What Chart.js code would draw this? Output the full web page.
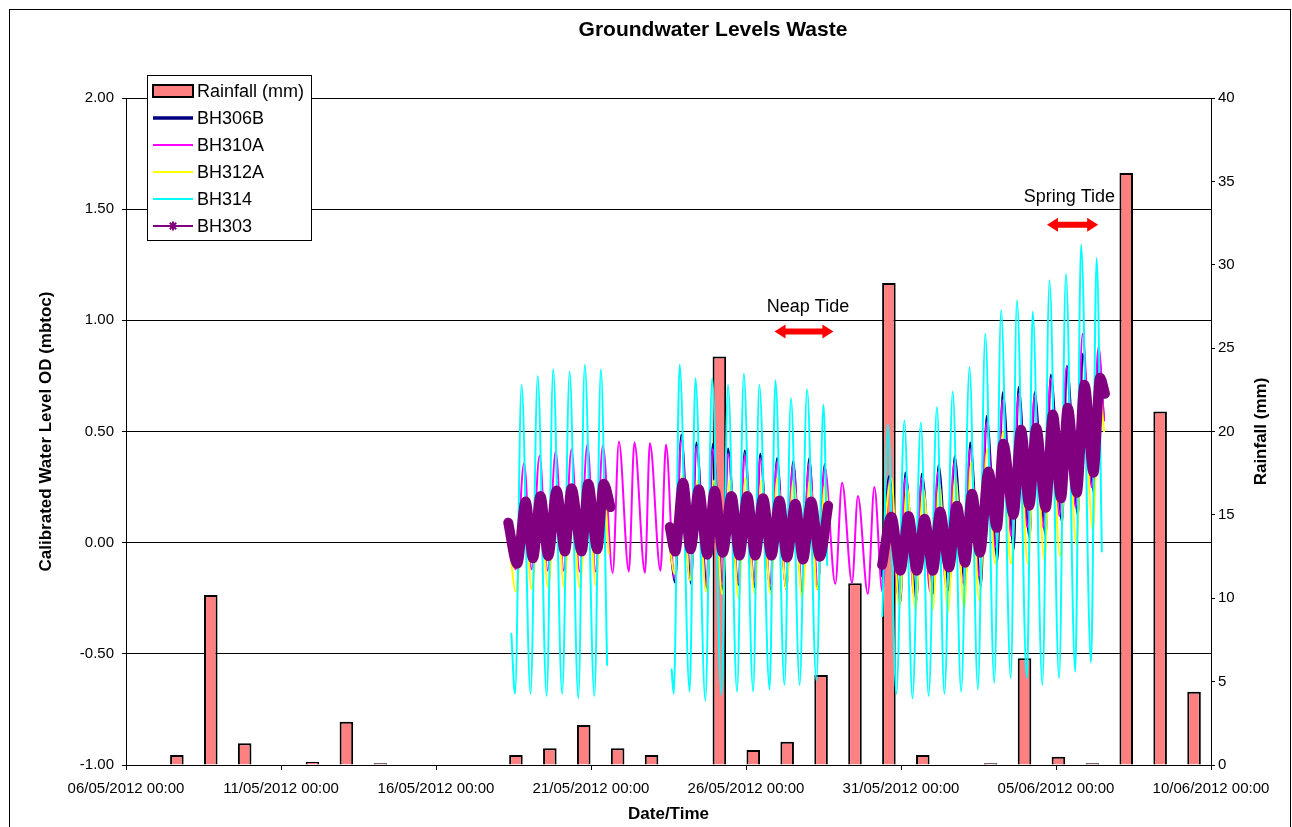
<!DOCTYPE html>
<html>
<head>
<meta charset="utf-8">
<script src="https://cdn.jsdelivr.net/npm/chart.js@4.4.1/dist/chart.umd.min.js"></script>
<style>
html,body{margin:0;padding:0;background:#fff;}
#wrap{width:1292px;height:827px;position:relative;}
canvas{display:block;}
</style>
</head>
<body>
<div id="wrap"><canvas id="c" width="1292" height="827"></canvas></div>
<script>
// ---------- DATA ----------
const chartTitle = 'Groundwater Levels Waste';
const xTitle = 'Date/Time';
const yTitle = 'Calibrated Water Level OD (mbtoc)';
const y2Title = 'Rainfall (mm)';

// x tick labels (every 5 days from 06/05/2012 00:00)
const xTickLabels = ['06/05/2012 00:00','11/05/2012 00:00','16/05/2012 00:00','21/05/2012 00:00',
  '26/05/2012 00:00','31/05/2012 00:00','05/06/2012 00:00','10/06/2012 00:00'];

// rainfall categories and values (mm)
const rainDates = ['06/05/2012','07/05/2012','08/05/2012','09/05/2012','10/05/2012','11/05/2012','12/05/2012',
  '13/05/2012','14/05/2012','15/05/2012','16/05/2012','17/05/2012','18/05/2012','19/05/2012','20/05/2012',
  '21/05/2012','22/05/2012','23/05/2012','24/05/2012','25/05/2012','26/05/2012','27/05/2012','28/05/2012',
  '29/05/2012','30/05/2012','31/05/2012','01/06/2012','02/06/2012','03/06/2012','04/06/2012','05/06/2012','06/06/2012'];
const rainfallMm = [null,0.6,10.2,1.3,null,0.2,2.6,0.1,null,null,null,0.6,1.0,2.4,1.0,0.6,
  null,24.5,0.9,1.4,5.4,10.9,28.9,0.6,null,0.1,6.4,0.5,0.1,35.5,21.2,4.4];

// groundwater levels: [days since 06/05/2012 00:00, level mbtoc]; null = no record
const bh306b = [
  [17.53,0.0],[17.72,-0.18],[17.91,0.485],[18.23,-0.186],[18.40,0.45],[18.75,-0.21],[18.93,0.444],
  [19.25,-0.21],[19.42,0.424],[19.76,-0.19],[19.96,0.414],[20.28,-0.20],[20.46,0.40],[20.79,-0.21],
  [21.00,0.38],[21.30,-0.21],[21.52,0.366],[21.81,-0.22],[22.04,0.38],[22.31,-0.21],[22.54,0.354],[22.64,0.15],
  [23.5,null],
  [24.36,-0.15],[24.62,0.30],[24.98,-0.27],[25.14,0.316],[25.50,-0.26],[25.67,0.31],[26.04,-0.23],[26.21,0.35],
  [26.55,-0.216],[26.73,0.39],[27.07,-0.20],[27.23,0.45],[27.58,-0.197],[27.76,0.57],[28.11,-0.08],[28.28,0.676],
  [28.64,-0.03],[28.79,0.70],[29.15,0.02],[29.31,0.676],[29.67,0.03],[29.83,0.756],[30.20,0.09],[30.35,0.796],
  [30.71,0.12],[30.86,0.85],[31.23,0.22],[31.37,0.85],[31.55,0.55]
];
const bh310a = [
  [12.34,0.10],[12.57,-0.12],[12.84,0.357],[13.08,-0.12],[13.34,0.39],[13.60,-0.125],[13.86,0.41],[14.12,-0.125],
  [14.37,0.42],[14.63,-0.13],[14.88,0.44],[15.15,-0.13],[15.38,0.436],[15.70,-0.136],[15.90,0.454],[16.22,-0.13],
  [16.40,0.451],[16.74,-0.135],[16.90,0.447],[17.24,-0.126],[17.42,0.44],[17.69,-0.16],
  [17.91,0.46],[18.19,-0.17],[18.40,0.43],[18.71,-0.19],[18.93,0.42],[19.23,-0.19],[19.42,0.40],[19.74,-0.18],
  [19.96,0.39],[20.25,-0.18],[20.46,0.38],[20.77,-0.19],[21.00,0.36],[21.28,-0.19],[21.52,0.35],[21.80,-0.20],
  [22.04,0.36],[22.32,-0.19],[22.54,0.34],[22.88,-0.185],[23.10,0.27],[23.42,-0.18],[23.61,0.21],[23.93,-0.23],
  [24.14,0.25],[24.40,-0.22],
  [24.62,0.28],[24.91,-0.24],[25.14,0.29],[25.43,-0.24],[25.67,0.29],[25.94,-0.22],[26.20,0.32],[26.46,-0.20],
  [26.72,0.36],[26.99,-0.18],[27.23,0.42],[27.52,-0.15],[27.76,0.54],[28.04,-0.02],[28.28,0.64],[28.55,0.03],
  [28.80,0.67],[29.07,0.07],[29.31,0.66],[29.58,0.07],[29.83,0.74],[30.11,0.12],[30.34,0.79],[30.63,0.16],
  [30.86,0.94],[31.15,0.25],[31.37,0.88],[31.55,0.55]
];
const bh312a = [
  [12.34,0.05],[12.57,-0.22],[12.86,0.21],[13.08,-0.21],[13.37,0.22],[13.61,-0.20],[13.89,0.24],[14.13,-0.20],
  [14.37,0.25],[14.63,-0.20],[14.91,0.26],[15.15,-0.19],[15.40,0.27],[15.57,-0.05],
  [16.5,null],
  [17.53,0.0],[17.69,-0.14],[17.95,0.30],[18.19,-0.17],[18.45,0.28],[18.71,-0.22],[18.97,0.28],[19.23,-0.23],
  [19.48,0.28],[19.76,-0.25],[19.98,0.29],[20.28,-0.23],[20.50,0.28],[20.79,-0.23],[21.01,0.29],[21.30,-0.21],
  [21.53,0.28],[21.81,-0.25],[22.06,0.28],[22.29,-0.21],[22.56,0.27],[22.65,0.12],
  [23.5,null],
  [24.36,-0.10],[24.69,0.29],[24.94,-0.29],[25.20,0.25],[25.46,-0.30],[25.72,0.24],[26.03,-0.30],[26.23,0.27],
  [26.52,-0.31],[26.75,0.30],[27.04,-0.30],[27.26,0.36],[27.52,-0.26],[27.78,0.42],[28.04,-0.095],[28.29,0.50],
  [28.54,-0.095],[28.81,0.52],[29.09,-0.095],[29.33,0.50],[29.63,-0.08],[29.84,0.56],[30.13,-0.06],[30.36,0.60],
  [30.66,-0.01],[30.87,0.68],[31.19,0.055],[31.39,0.70],[31.55,0.50]
];
const bh314 = [
  [12.43,-0.41],[12.55,-0.68],[12.76,0.71],[13.05,-0.68],[13.28,0.75],[13.57,-0.69],[13.78,0.78],[14.07,-0.68],
  [14.31,0.77],[14.59,-0.70],[14.80,0.80],[15.11,-0.69],[15.32,0.78],[15.52,-0.55],
  [16.5,null],
  [17.60,-0.57],[17.67,-0.68],[17.86,0.80],[18.18,-0.67],[18.37,0.74],[18.69,-0.71],[18.91,0.74],[19.21,-0.685],
  [19.42,0.71],[19.71,-0.67],[19.93,0.76],[20.23,-0.67],[20.43,0.71],[20.76,-0.66],[20.95,0.73],[21.24,-0.64],
  [21.45,0.65],[21.73,-0.64],[21.97,0.69],[22.27,-0.62],[22.50,0.62],[22.62,-0.10],
  [23.5,null],
  [24.40,-0.33],[24.58,0.53],[24.85,-0.68],[25.11,0.55],[25.37,-0.70],[25.64,0.54],[25.89,-0.69],[26.16,0.61],
  [26.40,-0.68],[26.67,0.68],[26.94,-0.67],[27.21,0.79],[27.48,-0.66],[27.72,0.94],[28.01,-0.63],[28.23,1.045],
  [28.54,-0.61],[28.74,1.09],[29.06,-0.61],[29.25,1.04],[29.56,-0.64],[29.79,1.18],[30.10,-0.61],[30.32,1.21],
  [30.62,-0.58],[30.81,1.34],[31.13,-0.54],[31.31,1.28],[31.48,-0.04]
];
const bh303 = [
  [12.33,0.09],[12.62,-0.095],[12.89,0.185],[13.13,-0.07],[13.37,0.21],[13.62,-0.06],[13.89,0.235],[14.16,-0.04],
  [14.37,0.245],[14.70,-0.04],[14.91,0.265],[15.20,-0.03],[15.41,0.265],[15.63,0.16],
  [16.5,null],
  [17.54,0.07],[17.72,-0.04],[17.97,0.27],[18.21,-0.03],[18.48,0.24],[18.75,-0.054],[18.99,0.234],[19.25,-0.045],
  [19.53,0.21],[19.79,-0.058],[20.04,0.21],[20.30,-0.058],[20.55,0.20],[20.82,-0.058],[21.08,0.19],[21.32,-0.067],
  [21.59,0.175],[21.84,-0.076],[22.10,0.185],[22.38,-0.063],[22.65,0.166],
  [23.5,null],
  [24.39,-0.10],[24.69,0.117],[24.98,-0.126],[25.24,0.12],[25.51,-0.126],[25.76,0.108],[26.03,-0.126],[26.26,0.14],
  [26.55,-0.112],[26.80,0.166],[27.07,-0.09],[27.29,0.22],[27.55,-0.045],[27.82,0.32],[28.09,0.067],[28.30,0.445],
  [28.63,0.126],[28.87,0.508],[29.14,0.166],[29.36,0.517],[29.67,0.157],[29.90,0.576],[30.16,0.20],[30.38,0.607],
  [30.67,0.225],[30.92,0.71],[31.21,0.315],[31.42,0.742],[31.58,0.67]
];

// tide annotations (day, level in mbtoc)
const tideNotes = [
  {text:'Neap Tide', textDay:22.0, textLevel:1.06, fromDay:20.92, toDay:22.82, arrowLevel:0.95},
  {text:'Spring Tide', textDay:30.43, textLevel:1.555, fromDay:29.71, toDay:31.36, arrowLevel:1.43}
];

// ---------- CHART ----------
const FONT = '"Liberation Sans", Arial, Helvetica, sans-serif';
Chart.defaults.font.family = FONT;
Chart.defaults.color = '#000';

const toPts = arr => arr.map(p => ({x: p[0], y: p[1]}));

function lineDs(label, arr, color, width, order) {
  return {
    type: 'line', label, data: toPts(arr), xAxisID: 'x', yAxisID: 'y',
    borderColor: color, backgroundColor: color, borderWidth: width,
    pointRadius: 0, pointHoverRadius: 0, fill: false, spanGaps: false,
    cubicInterpolationMode: 'monotone', borderJoinStyle: 'round', borderCapStyle: 'round',
    order
  };
}

const datasets = [
  {type: 'bar', label: 'Rainfall (mm)', data: rainfallMm, xAxisID: 'xr', yAxisID: 'y2',
   backgroundColor: '#FF8080', borderColor: '#000', borderWidth: 2, grouped: false,
   barPercentage: 0.4, categoryPercentage: 1.0, order: 10},
  lineDs('BH306B', bh306b, '#000080', 2, 5),
  lineDs('BH310A', bh310a, '#FF00FF', 2, 4),
  lineDs('BH312A', bh312a, '#FFFF00', 2, 3),
  lineDs('BH314', bh314, '#00FFFF', 2, 2),
  lineDs('BH303', bh303, '#800080', 10, 1)
];
datasets[1].legendWidth = 3.5;
datasets[5].legendWidth = 2;
datasets[5].legendStar = true;

function drawStar(ctx, x, y, r) {
  ctx.beginPath();
  for (let k = 0; k < 4; k++) {
    const a = k * Math.PI / 4;
    ctx.moveTo(x - r * Math.cos(a), y - r * Math.sin(a));
    ctx.lineTo(x + r * Math.cos(a), y + r * Math.sin(a));
  }
  ctx.stroke();
}

function dblArrow(ctx, x1, x2, y) {
  const hl = 11, hh = 7, sh = 3;
  ctx.beginPath();
  ctx.moveTo(x1, y);
  ctx.lineTo(x1 + hl, y - hh); ctx.lineTo(x1 + hl, y - sh);
  ctx.lineTo(x2 - hl, y - sh); ctx.lineTo(x2 - hl, y - hh);
  ctx.lineTo(x2, y);
  ctx.lineTo(x2 - hl, y + hh); ctx.lineTo(x2 - hl, y + sh);
  ctx.lineTo(x1 + hl, y + sh); ctx.lineTo(x1 + hl, y + hh);
  ctx.closePath();
  ctx.fill();
}

const overlay = {
  id: 'overlay',
  afterDatasetsDraw(chart) {
    const ctx = chart.ctx, xs = chart.scales.x, ys = chart.scales.y;
    ctx.save();
    tideNotes.forEach(n => {
      ctx.fillStyle = '#000';
      ctx.font = '18px ' + FONT;
      ctx.textAlign = 'center';
      ctx.textBaseline = 'middle';
      ctx.fillText(n.text, xs.getPixelForValue(n.textDay), ys.getPixelForValue(n.textLevel));
      ctx.fillStyle = '#FF0000';
      dblArrow(ctx, xs.getPixelForValue(n.fromDay), xs.getPixelForValue(n.toDay), ys.getPixelForValue(n.arrowLevel));
    });
    ctx.restore();
  },
  afterDraw(chart) {
    const ctx = chart.ctx, ca = chart.chartArea;
    ctx.save();
    // outer frame
    ctx.strokeStyle = '#000'; ctx.lineWidth = 1;
    ctx.strokeRect(9.5, 9.5, 1281, 840);
    // chart title
    ctx.font = 'bold 21px ' + FONT;
    ctx.fillStyle = '#000'; ctx.textAlign = 'center'; ctx.textBaseline = 'middle';
    ctx.fillText(chartTitle, 713, 30);
    // right axis title (reads bottom to top)
    ctx.save();
    ctx.translate(1261, (ca.top + ca.bottom) / 2);
    ctx.rotate(-Math.PI / 2);
    ctx.font = 'bold 17px ' + FONT;
    ctx.fillStyle = '#000'; ctx.textAlign = 'center'; ctx.textBaseline = 'middle';
    ctx.fillText(y2Title, 0, 0);
    ctx.restore();
    // legend box
    const bx = ca.left + 21.5, by = 75.5, bw = 164, bh = 165;
    ctx.fillStyle = '#fff'; ctx.fillRect(bx, by, bw, bh);
    ctx.strokeStyle = '#000'; ctx.lineWidth = 1; ctx.strokeRect(bx, by, bw, bh);
    const sx1 = bx + 5.5, sx2 = bx + 45.5, tx = bx + 49.5;
    chart.data.datasets.forEach((ds, i) => {
      const yy = by + 15.5 + i * 27;
      if (ds.type === 'bar') {
        ctx.fillStyle = ds.backgroundColor;
        ctx.fillRect(sx1, yy - 6, 40, 12);
        ctx.strokeStyle = '#000'; ctx.lineWidth = 2;
        ctx.strokeRect(sx1, yy - 6, 40, 12);
      } else {
        ctx.strokeStyle = ds.borderColor;
        ctx.lineWidth = ds.legendWidth || 2;
        ctx.beginPath(); ctx.moveTo(sx1, yy); ctx.lineTo(sx2, yy); ctx.stroke();
        if (ds.legendStar) { ctx.lineWidth = 2; drawStar(ctx, (sx1 + sx2) / 2, yy, 4.5); }
      }
      ctx.fillStyle = '#000';
      ctx.font = '18px ' + FONT;
      ctx.textAlign = 'left'; ctx.textBaseline = 'middle';
      ctx.fillText(ds.label, tx, yy + 1);
    });
    ctx.restore();
  }
};

new Chart(document.getElementById('c'), {
  type: 'line',
  data: {labels: rainDates, datasets},
  plugins: [overlay],
  options: {
    responsive: false,
    animation: false,
    devicePixelRatio: 1,
    layout: {padding: {top: 98, left: 0, right: 0, bottom: 0}},
    events: [],
    plugins: {
      legend: {display: false},
      tooltip: {enabled: false},
      title: {display: false}
    },
    scales: {
      x: {
        type: 'linear', position: 'bottom', min: 0, max: 35, offset: false,
        afterFit: s => { s.height = 62; },
        ticks: {stepSize: 5, autoSkip: false, maxRotation: 0, minRotation: 0, padding: 10,
          font: {size: 15}, color: '#000',
          callback: v => xTickLabels[Math.round(v / 5)]},
        grid: {offset: false, drawOnChartArea: false, drawTicks: true, tickLength: 5, color: '#000'},
        border: {display: true, color: '#000', width: 1},
        title: {display: true, text: xTitle, font: {size: 17, weight: 'bold'}, color: '#000',
          padding: {top: 0, bottom: 2}}
      },
      xr: {
        type: 'category', axis: 'x', position: 'bottom', display: false, offset: true,
        labels: rainDates, grid: {display: false, offset: true}
      },
      y: {
        type: 'linear', position: 'left', min: -1, max: 2,
        afterFit: s => { s.width = 126; },
        ticks: {stepSize: 0.5, padding: 8, font: {size: 15}, color: '#000',
          callback: v => Number(v).toFixed(2)},
        grid: {color: '#000', lineWidth: 1, drawTicks: true, tickLength: 4},
        border: {display: true, color: '#000', width: 1},
        title: {display: true, text: yTitle, font: {size: 17, weight: 'bold'}, color: '#000',
          padding: {top: 36, bottom: 0}}
      },
      y2: {
        type: 'linear', position: 'right', min: 0, max: 40,
        afterFit: s => { s.width = 81; },
        ticks: {stepSize: 5, padding: 3, font: {size: 15}, color: '#000'},
        grid: {drawOnChartArea: false, drawTicks: true, tickLength: 4, color: '#000'},
        border: {display: true, color: '#000', width: 1}
      }
    }
  }
});
</script>
</body>
</html>
